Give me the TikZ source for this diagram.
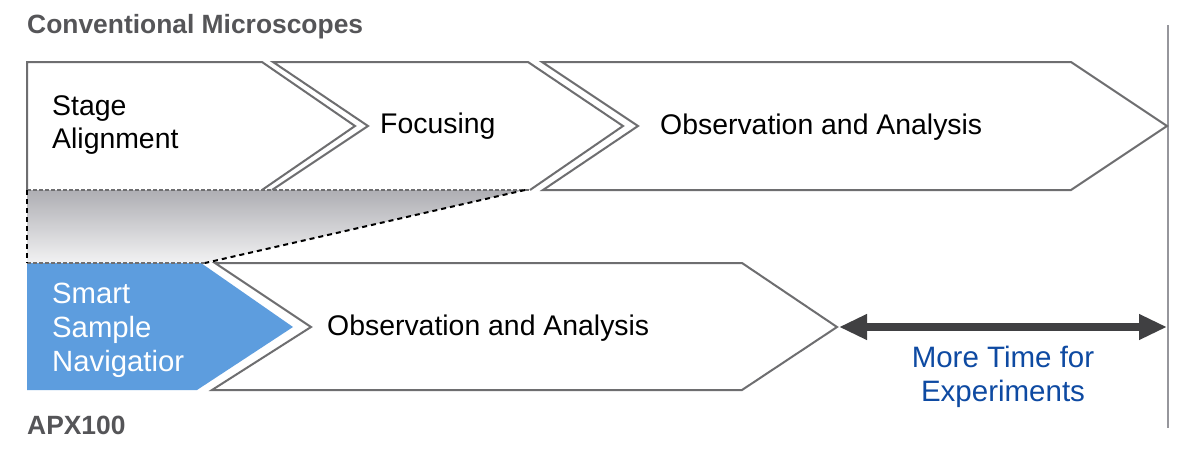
\documentclass[tikz,border=0pt]{standalone}
\usepackage{fontspec}
\setmainfont{Liberation Sans}
\usetikzlibrary{arrows.meta}
\definecolor{outline}{RGB}{110,110,112}
\definecolor{titlegray}{RGB}{85,85,88}
\definecolor{navblue}{RGB}{93,157,222}
\definecolor{textblue}{RGB}{14,74,162}
\definecolor{arrowgray}{RGB}{64,64,66}
\definecolor{gradtop}{RGB}{174,174,179}
\definecolor{gradbot}{RGB}{242,242,243}
\definecolor{rulegray}{RGB}{150,150,156}
\tikzset{
  boxline/.style={draw=outline, line width=2pt, line join=miter, fill=white},
  boxedge/.style={draw=outline, line width=2pt, line join=miter},
  graydash/.style={draw=outline, line width=1.2pt, dash pattern=on 4pt off 2pt},
  blackdash/.style={draw=black, line width=2pt, dash pattern=on 5pt off 4pt},
  bodytext/.style={font=\fontsize{28.4}{34}\selectfont, text=black, inner sep=0pt, anchor=base west},
  headtext/.style={font=\fontsize{26.4}{30}\selectfont\bfseries, text=titlegray, inner sep=0pt, anchor=base west},
  navtext/.style={font=\fontsize{29.3}{34}\selectfont, text=white, inner sep=0pt, anchor=base west},
  moretext/.style={font=\fontsize{29.5}{34}\selectfont, text=textblue, inner sep=0pt, anchor=base},
  timearrow/.style={draw=arrowgray, line width=8.5pt, {Triangle[length=28pt,width=24pt]}-{Triangle[length=28pt,width=24pt]}}
}
\begin{document}
\begin{tikzpicture}[x=1pt,y=-1pt]
\useasboundingbox (0,0) rectangle (1200,463);
\fill[white] (0,0) rectangle (1200,463);

% vertical rule
\coordinate (ruleTop) at (1168,25);
\coordinate (ruleBot) at (1168,428);
\draw[rulegray, line width=2.5pt] (ruleTop) -- (ruleBot);

% top row boxes
\fill[white] (27,62) -- (262,62) -- (355,126) -- (262,190) -- (27,190) -- cycle;
\draw[boxedge] (262,190) -- (355,126) -- (262,62) -- (27,62) -- (27,190);
\fill[white] (273,62) -- (528,62) -- (623,126) -- (530,190) -- (272,190) -- (368,126) -- cycle;
\draw[boxedge] (272,190) -- (368,126) -- (273,62) -- (528,62) -- (623,126) -- (530,190);
\draw[boxline] (542,62) -- (1071,62) -- (1167,126) -- (1071,190) -- (543,190) -- (638,126) -- cycle;

% gradient region
\shade[top color=gradtop, bottom color=gradbot] (27,190) -- (525,190) -- (205,263) -- (27,263) -- cycle;

% bottom row
\fill[navblue] (27,263) -- (201,263) -- (293,327) -- (197,390) -- (27,390) -- cycle;
\draw[boxline] (215,263) -- (742,263) -- (837,327) -- (742,390) -- (212,390) -- (311,327) -- cycle;

% dashed edges
\draw[graydash] (27,190) -- (530,190);
\draw[graydash] (27,263) -- (205,263);
\draw[blackdash] (27,190) -- (27,263);
\draw[blackdash] (525,190) -- (205,263);

% texts
\node[headtext] (title) at (27,34) {Conventional Microscopes};
\node[headtext] (apx) at (27,434) {APX100};
\node[bodytext] (stage1) at (52,115) {Stage};
\node[bodytext] (stage2) at (52,148) {Alignment};
\node[bodytext] (focus) at (380,133) {Focusing};
\node[bodytext] (obs1) at (660,134) {Observation and Analysis};
\node[bodytext] (obs2) at (327,335) {Observation and Analysis};
\node[navtext] (nav1) at (52,303) {Smart};
\node[navtext] (nav2) at (52,337) {Sample};
\node[navtext] (nav3) at (52,371) {Navigatior};
\node[moretext] (more1) at (1003,367) {More Time for};
\node[moretext] (more2) at (1003,401) {Experiments};

% arrow
\coordinate (obsTip) at (839,327);
\coordinate (ruleMid) at (1167,327);
\draw[timearrow] (obsTip) -- (ruleMid);
\end{tikzpicture}
\end{document}
